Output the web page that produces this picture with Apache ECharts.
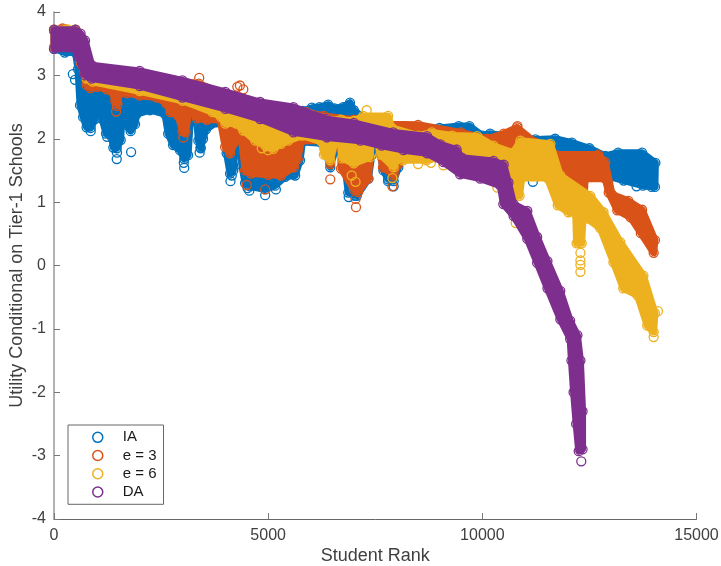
<!DOCTYPE html>
<html><head><meta charset="utf-8">
<style>html,body{margin:0;padding:0;background:#fff}#c{width:721px;height:566px}</style>
<script src="https://cdn.jsdelivr.net/npm/echarts@6/dist/echarts.min.js"></script>
</head><body><div id="c"></div>
<script>
var seriesNames = ['IA','e = 3','e = 6','DA'];
var colors = ['#0072BD','#D95319','#EDB120','#7E2F8E'];

// upper and lower edges of each cloud of points: [rank, value]
var iaTop = [[1,3.7],[500,3.68],[600,3.4],[800,3.0],[2000,2.88],[4000,2.6],[5400,2.48],[5800,2.44],[6020,2.49],[6200,2.5],[6400,2.54],[6550,2.48],[6750,2.5],[6910,2.57],[7000,2.45],[7300,2.3],[8000,2.2],[8600,2.17],[9000,2.17],[9450,2.2],[9700,2.2],[10000,2.05],[10180,2.08],[11240,1.99],[11700,2.0],[12090,1.94],[12500,1.85],[12870,1.73],[13170,1.78],[13730,1.78],[14040,1.62]];
var iaLow = [[1,3.42],[250,3.36],[500,3.36],[560,3.1],[607,2.53],[680,2.34],[760,2.18],[857,2.17],[957,2.31],[997,2.56],[1090,2.56],[1125,2.31],[1215,2.08],[1347,2.03],[1385,1.86],[1465,1.85],[1558,1.98],[1590,2.47],[1690,2.47],[1707,2.21],[1790,2.12],[1892,2.23],[1930,2.39],[2240,2.45],[2590,2.39],[2665,2.08],[2780,1.9],[2940,1.82],[3040,1.68],[3130,1.74],[3190,2.37],[3335,2.26],[3370,1.97],[3425,1.85],[3480,2.0],[3550,2.15],[3800,2.26],[3970,2.21],[4030,1.77],[4110,1.45],[4185,1.5],[4245,1.95],[4345,2.05],[4385,1.58],[4460,1.3],[4575,1.25],[4930,1.2],[5160,1.26],[5400,1.4],[5630,1.42],[5745,1.66],[5800,1.95],[6250,1.93],[6320,1.85],[6450,1.55],[6560,1.82],[6680,2.0],[6750,1.79],[6870,1.15],[7070,1.1],[7340,1.37],[7420,1.74],[7460,2.0],[7560,1.95],[7690,1.5],[7800,1.36],[7930,1.33],[8040,1.55],[8130,1.8],[8300,1.9],[9000,1.9],[10000,1.6],[10800,1.5],[11180,1.5],[12000,1.5],[12600,1.45],[12870,1.5],[13000,1.4],[13300,1.34],[13750,1.26],[14030,1.24]];
var iaExtra = [[490,2.93],[440,3.02],[857,2.12],[1465,1.68],[1470,1.78],[1450,1.88],[1800,1.79],[1240,2.03],[3040,1.54],[3030,1.62],[3400,1.78],[3420,1.86],[4120,1.33],[4150,1.42],[4520,1.22],[4560,1.18],[4640,1.3],[4930,1.11],[5180,1.2],[6880,1.08],[7030,1.1],[7930,1.25],[7800,1.33],[10400,1.62],[11180,1.32],[11000,1.42],[13600,1.25],[13950,1.24]];

var e3Top = [[1,3.72],[200,3.74],[500,3.72],[620,3.6],[880,3.15],[2000,3.02],[2500,2.95],[3380,2.87],[4000,2.7],[5000,2.5],[5600,2.45],[5900,2.42],[6300,2.36],[7000,2.3],[7800,2.23],[8500,2.22],[9500,2.1],[10110,2.0],[10500,2.08],[10810,2.18],[11240,1.94],[11700,1.75],[12710,1.75],[12870,1.63],[13030,1.12],[13410,1.02],[13730,0.88],[14030,0.4]];
var e3Low = [[1,3.45],[500,3.45],[620,3.2],[760,2.85],[850,2.8],[1000,2.82],[1230,2.78],[1350,2.75],[1430,2.6],[1480,2.55],[1530,2.72],[1700,2.72],[2000,2.68],[2400,2.65],[2620,2.56],[2720,2.42],[2900,2.36],[3000,2.12],[3070,2.1],[3150,2.42],[3190,2.45],[3340,2.32],[3570,2.3],[3880,2.3],[3995,1.87],[4110,1.77],[4230,1.95],[4370,2.05],[4460,1.5],[4600,1.45],[5000,1.43],[5300,1.42],[5600,1.55],[5690,1.68],[5780,1.97],[6250,1.97],[6340,1.8],[6450,1.6],[6560,1.95],[6680,2.0],[6700,1.53],[7000,1.2],[7100,1.16],[7340,1.37],[7410,1.97],[7540,1.95],[7680,1.55],[7930,1.42],[8040,1.6],[8130,1.85],[9000,1.85],[10000,1.7],[11000,1.6],[11500,1.5],[11800,1.37],[12010,1.37],[12030,1.1],[12380,1.1],[12400,1.37],[12870,1.37],[12950,1.15],[13150,0.87],[13460,0.76],[13700,0.51],[14000,0.2]];
var e3Extra = [[3390,2.96],[4280,2.82],[4340,2.84],[4420,2.78],[1450,2.43],[1470,2.52],[3020,2.02],[4500,1.27],[4930,1.2],[6450,1.36],[7050,0.92],[7040,1.05],[7900,1.25],[10820,2.2]];

var e6Top = [[1,3.72],[300,3.73],[500,3.72],[620,3.6],[880,3.16],[2000,3.0],[3000,2.85],[4000,2.65],[5000,2.48],[6000,2.38],[6400,2.3],[6700,2.3],[7000,2.28],[7220,2.36],[7800,2.36],[7890,2.17],[8500,2.05],[8820,2.1],[9300,2.05],[9880,2.04],[10260,1.89],[10720,1.78],[10890,1.97],[11590,1.92],[11820,1.42],[12520,1.1],[12830,0.84],[13220,0.37],[13760,-0.16],[14030,-0.75]];
var e6Low = [[1,3.45],[500,3.45],[620,3.25],[760,2.95],[900,2.9],[2000,2.75],[3000,2.6],[3700,2.42],[3900,2.34],[4000,2.24],[4250,2.24],[4420,2.13],[4700,1.97],[4950,1.88],[5120,1.84],[5300,1.92],[5470,1.97],[5800,2.05],[6250,1.95],[6300,1.75],[6450,1.66],[6560,1.95],[6680,1.98],[6720,1.69],[7000,1.61],[7380,1.71],[7410,2.0],[7560,1.95],[7620,1.75],[7930,1.55],[8030,1.7],[8150,1.66],[8700,1.66],[9000,1.7],[9700,1.75],[10000,1.6],[10600,1.5],[10680,1.3],[10760,1.1],[10870,1.1],[10920,1.38],[11520,1.38],[11760,0.95],[12010,0.84],[12180,0.82],[12200,0.35],[12320,0.35],[12350,0.75],[12450,0.74],[12750,0.59],[13060,0.05],[13290,-0.36],[13620,-0.47],[13850,-0.95],[14000,-1.05]];
var e6Extra = [[7300,2.45],[10780,0.67],[10790,0.75],[12290,0.2],[12290,0.08],[12290,0.01],[12290,-0.1],[14000,-1.13],[9090,1.58],[8500,1.6],[8800,1.62],[10350,1.23],[7900,1.38],[7040,1.32],[6950,1.42],[14100,-0.72],[5000,1.82],[4850,1.85]];

var daTop = [[1,3.72],[500,3.72],[620,3.66],[725,3.55],[880,3.16],[2000,3.07],[3000,2.92],[4000,2.74],[4812,2.58],[5590,2.5],[6370,2.31],[7000,2.25],[7920,2.1],[8710,2.04],[9020,1.91],[9400,1.83],[9520,1.7],[10260,1.65],[10500,1.59],[10610,1.31],[10730,0.97],[11050,0.86],[11280,0.45],[11520,0.07],[11820,-0.4],[12050,-0.87],[12220,-1.1],[12290,-1.5],[12340,-2.3],[12340,-2.9]];
var daLow = [[1,3.42],[500,3.42],[560,3.3],[725,3.0],[880,2.95],[2000,2.83],[3000,2.65],[4000,2.47],[4812,2.31],[5590,2.1],[6370,2.02],[7150,1.97],[7650,1.89],[8160,1.82],[8710,1.77],[9090,1.63],[9480,1.44],[9950,1.37],[10420,1.26],[10490,0.97],[10730,0.78],[11050,0.42],[11280,0.04],[11520,-0.36],[11820,-0.85],[12050,-1.16],[12080,-1.5],[12130,-2.0],[12190,-2.5],[12250,-2.93]];
var daExtra = [[12310,-3.09]];

var tops = [iaTop,e3Top,e6Top,daTop];
var lows = [iaLow,e3Low,e6Low,daLow];
var extras = [iaExtra,e3Extra,e6Extra,daExtra];

var series = [];
seriesNames.forEach(function(name,i){
  var outline = tops[i].concat(lows[i].slice().reverse());
  series.push({
    type:'custom', name:name+' cloud', z:2+2*i, silent:true, clip:false,
    coordinateSystem:'cartesian2d', data:[[0,0]], encode:{x:0,y:1},
    renderItem:function(p,api){
      return {type:'polygon',shape:{points:outline.map(function(d){return api.coord(d);})},
        style:{fill:colors[i],stroke:colors[i],lineWidth:7,lineJoin:'round'}};
    }
  });
  series.push({
    type:'scatter', name:name, z:3+2*i, clip:false, symbol:'circle', symbolSize:9,
    data:tops[i].concat(lows[i],extras[i]),
    itemStyle:{color:'rgba(255,255,255,0)',borderColor:colors[i],borderWidth:1.3,opacity:1}
  });
});

var chart = echarts.init(document.getElementById('c'),null,{renderer:'canvas'});
chart.setOption({
  animation:false,
  backgroundColor:'#fff',
  grid:{left:54,top:12,width:642.5,height:507,containLabel:false,outerBoundsMode:'none'},
  xAxis:{type:'value',min:0,max:15000,interval:5000,name:'Student Rank',nameLocation:'middle',nameGap:37,nameMoveOverlap:false,
    nameTextStyle:{fontFamily:'Liberation Sans',fontSize:18,color:'#404040',verticalAlign:'middle'},
    axisLine:{onZero:false,lineStyle:{color:'#666',width:1}},
    axisTick:{inside:true,length:6,lineStyle:{color:'#777'}},
    axisLabel:{fontFamily:'Liberation Sans',fontSize:16,color:'#404040',margin:9,formatter:function(v){return String(v);},hideOverlap:false},
    splitLine:{show:false}},
  yAxis:{type:'value',min:-4,max:4,interval:1,name:'Utility Conditional on Tier-1 Schools',nameLocation:'middle',nameGap:37,nameMoveOverlap:false,
    nameTextStyle:{fontFamily:'Liberation Sans',fontSize:18,color:'#404040',verticalAlign:'middle'},
    axisLine:{onZero:false,lineStyle:{color:'#999',width:1.5}},
    axisTick:{inside:true,length:6,lineStyle:{color:'#777'}},
    axisLabel:{fontFamily:'Liberation Sans',fontSize:16,color:'#404040',margin:8},
    splitLine:{show:false}},
  legend:{orient:'vertical',left:68,top:425,
    padding:[4.85,7,4.85,24],itemGap:3.2,itemWidth:10,itemHeight:10,icon:'circle',
    borderColor:'#666',borderWidth:1,backgroundColor:'#fff',borderRadius:0,z:50,
    textStyle:{fontFamily:'Liberation Sans',fontSize:15,color:'#1a1a1a',padding:[0,0,0,15],lineHeight:14},
    data:seriesNames.map(function(n,i){return {name:n,icon:'circle',itemStyle:{color:'rgba(255,255,255,0)',borderColor:colors[i],borderWidth:1.5}};})},
  series:series
});
</script></body></html>
